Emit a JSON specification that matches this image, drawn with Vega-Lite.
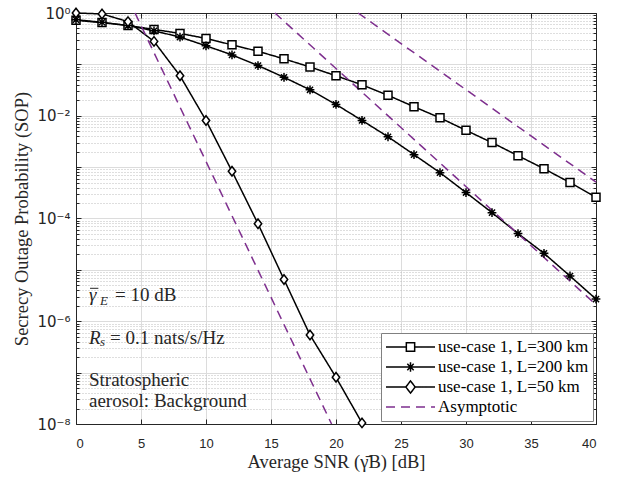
{
  "$schema": "https://vega.github.io/schema/vega-lite/v6.json",
  "width": 520,
  "height": 411,
  "autosize": {"type": "none"},
  "padding": {"left": 76, "top": 13, "right": 24, "bottom": 53},
  "background": "white",
  "config": {
    "view": {"stroke": "#262626", "strokeWidth": 1},
    "axis": {"domainColor": "#262626", "tickColor": "#262626", "labelColor": "#262626", "labelFont": "Liberation Sans", "labelFontSize": 13, "titleFont": "Liberation Serif", "titleFontWeight": "normal", "titleFontSize": 18.5, "titleColor": "#262626"},
    "text": {"font": "Liberation Serif", "fontSize": 19, "color": "#262626"}
  },
  "datasets": {
    "curves": [
      {"series": "use-case 1, L=300 km", "curve": "c300", "snr": 0, "sop": 0.72},
      {"series": "use-case 1, L=300 km", "curve": "c300", "snr": 2, "sop": 0.65},
      {"series": "use-case 1, L=300 km", "curve": "c300", "snr": 4, "sop": 0.57},
      {"series": "use-case 1, L=300 km", "curve": "c300", "snr": 6, "sop": 0.48},
      {"series": "use-case 1, L=300 km", "curve": "c300", "snr": 8, "sop": 0.40},
      {"series": "use-case 1, L=300 km", "curve": "c300", "snr": 10, "sop": 0.32},
      {"series": "use-case 1, L=300 km", "curve": "c300", "snr": 12, "sop": 0.24},
      {"series": "use-case 1, L=300 km", "curve": "c300", "snr": 14, "sop": 0.18},
      {"series": "use-case 1, L=300 km", "curve": "c300", "snr": 16, "sop": 0.128},
      {"series": "use-case 1, L=300 km", "curve": "c300", "snr": 18, "sop": 0.089},
      {"series": "use-case 1, L=300 km", "curve": "c300", "snr": 20, "sop": 0.060},
      {"series": "use-case 1, L=300 km", "curve": "c300", "snr": 22, "sop": 0.040},
      {"series": "use-case 1, L=300 km", "curve": "c300", "snr": 24, "sop": 0.025},
      {"series": "use-case 1, L=300 km", "curve": "c300", "snr": 26, "sop": 0.015},
      {"series": "use-case 1, L=300 km", "curve": "c300", "snr": 28, "sop": 0.0091},
      {"series": "use-case 1, L=300 km", "curve": "c300", "snr": 30, "sop": 0.0052},
      {"series": "use-case 1, L=300 km", "curve": "c300", "snr": 32, "sop": 0.0030},
      {"series": "use-case 1, L=300 km", "curve": "c300", "snr": 34, "sop": 0.00167},
      {"series": "use-case 1, L=300 km", "curve": "c300", "snr": 36, "sop": 0.00093},
      {"series": "use-case 1, L=300 km", "curve": "c300", "snr": 38, "sop": 0.00050},
      {"series": "use-case 1, L=300 km", "curve": "c300", "snr": 40, "sop": 0.00026},
      {"series": "use-case 1, L=200 km", "curve": "c200", "snr": 0, "sop": 0.74},
      {"series": "use-case 1, L=200 km", "curve": "c200", "snr": 2, "sop": 0.66},
      {"series": "use-case 1, L=200 km", "curve": "c200", "snr": 4, "sop": 0.57},
      {"series": "use-case 1, L=200 km", "curve": "c200", "snr": 6, "sop": 0.45},
      {"series": "use-case 1, L=200 km", "curve": "c200", "snr": 8, "sop": 0.34},
      {"series": "use-case 1, L=200 km", "curve": "c200", "snr": 10, "sop": 0.23},
      {"series": "use-case 1, L=200 km", "curve": "c200", "snr": 12, "sop": 0.153},
      {"series": "use-case 1, L=200 km", "curve": "c200", "snr": 14, "sop": 0.095},
      {"series": "use-case 1, L=200 km", "curve": "c200", "snr": 16, "sop": 0.056},
      {"series": "use-case 1, L=200 km", "curve": "c200", "snr": 18, "sop": 0.032},
      {"series": "use-case 1, L=200 km", "curve": "c200", "snr": 20, "sop": 0.0166},
      {"series": "use-case 1, L=200 km", "curve": "c200", "snr": 22, "sop": 0.0081},
      {"series": "use-case 1, L=200 km", "curve": "c200", "snr": 24, "sop": 0.0039},
      {"series": "use-case 1, L=200 km", "curve": "c200", "snr": 26, "sop": 0.00175},
      {"series": "use-case 1, L=200 km", "curve": "c200", "snr": 28, "sop": 0.00078},
      {"series": "use-case 1, L=200 km", "curve": "c200", "snr": 30, "sop": 0.00032},
      {"series": "use-case 1, L=200 km", "curve": "c200", "snr": 32, "sop": 0.00013},
      {"series": "use-case 1, L=200 km", "curve": "c200", "snr": 34, "sop": 0.000051},
      {"series": "use-case 1, L=200 km", "curve": "c200", "snr": 36, "sop": 0.000021},
      {"series": "use-case 1, L=200 km", "curve": "c200", "snr": 38, "sop": 0.0000076},
      {"series": "use-case 1, L=200 km", "curve": "c200", "snr": 40, "sop": 0.0000027},
      {"series": "use-case 1, L=50 km", "curve": "c50", "snr": 0, "sop": 1.0},
      {"series": "use-case 1, L=50 km", "curve": "c50", "snr": 2, "sop": 0.96},
      {"series": "use-case 1, L=50 km", "curve": "c50", "snr": 4, "sop": 0.68},
      {"series": "use-case 1, L=50 km", "curve": "c50", "snr": 6, "sop": 0.28},
      {"series": "use-case 1, L=50 km", "curve": "c50", "snr": 8, "sop": 0.060},
      {"series": "use-case 1, L=50 km", "curve": "c50", "snr": 10, "sop": 0.0081},
      {"series": "use-case 1, L=50 km", "curve": "c50", "snr": 12, "sop": 0.00083},
      {"series": "use-case 1, L=50 km", "curve": "c50", "snr": 14, "sop": 0.000079},
      {"series": "use-case 1, L=50 km", "curve": "c50", "snr": 16, "sop": 0.0000065},
      {"series": "use-case 1, L=50 km", "curve": "c50", "snr": 18, "sop": 0.00000054},
      {"series": "use-case 1, L=50 km", "curve": "c50", "snr": 20, "sop": 0.000000081},
      {"series": "use-case 1, L=50 km", "curve": "c50", "snr": 22, "sop": 0.0000000105},
      {"series": "Asymptotic", "curve": "a50", "snr": 4.54, "sop": 1.0},
      {"series": "Asymptotic", "curve": "a50", "snr": 19.66, "sop": 0.00000001},
      {"series": "Asymptotic", "curve": "a200", "snr": 15.3, "sop": 1.0},
      {"series": "Asymptotic", "curve": "a200", "snr": 40, "sop": 0.0000021},
      {"series": "Asymptotic", "curve": "a300", "snr": 21.7, "sop": 1.0},
      {"series": "Asymptotic", "curve": "a300", "snr": 40, "sop": 0.00051}
    ]
  },
  "layer": [
    {
      "data": {"name": "curves"},
      "mark": {"type": "line", "strokeWidth": 1.5},
      "encoding": {
        "x": {"field": "snr", "type": "quantitative", "scale": {"domain": [0, 40], "nice": false},
          "axis": {"orient": "bottom", "values": [0, 5, 10, 15, 20, 25, 30, 35, 40], "grid": true, "gridColor": "#dcdcdc", "gridWidth": 1, "tickSize": -5, "labelPadding": 18, "title": "Average SNR (γ̄B) [dB]", "titlePadding": 2}},
        "y": {"field": "sop", "type": "quantitative", "scale": {"type": "log", "domain": [0.00000001, 1], "nice": false},
          "axis": {"orient": "left",
            "values": [1, 0.9, 0.8, 0.7, 0.6, 0.5, 0.4, 0.3, 0.2, 0.1, 0.09, 0.08, 0.07, 0.06, 0.05, 0.04, 0.03, 0.02, 0.01, 0.009, 0.008, 0.007, 0.006, 0.005, 0.004, 0.003, 0.002, 0.001, 0.0009, 0.0008, 0.0007, 0.0006, 0.0005, 0.0004, 0.0003, 0.0002, 0.0001, 0.00009, 0.00008, 0.00007, 0.00006, 0.00005, 0.00004, 0.00003, 0.00002, 0.00001, 0.000009, 0.000008, 0.000007, 0.000006, 0.000005, 0.000004, 0.000003, 0.000002, 0.000001, 9e-7, 8e-7, 7e-7, 6e-7, 5e-7, 4e-7, 3e-7, 2e-7, 1e-7, 9e-8, 8e-8, 7e-8, 6e-8, 5e-8, 4e-8, 3e-8, 2e-8, 1e-8],
            "labelExpr": "datum.value === 1 ? '10⁰' : datum.value === 0.01 ? '10⁻²' : datum.value === 0.0001 ? '10⁻⁴' : datum.value === 0.000001 ? '10⁻⁶' : datum.value === 1e-8 ? '10⁻⁸' : ''",
            "labelFont": "DejaVu Sans",
            "labelFontSize": 15,
            "grid": true,
            "gridColor": {"condition": {"test": "abs(log(datum.value)/LN10 - round(log(datum.value)/LN10)) < 0.001", "value": "#dcdcdc"}, "value": "#bdbdbd"},
            "gridDash": {"condition": {"test": "abs(log(datum.value)/LN10 - round(log(datum.value)/LN10)) < 0.001", "value": []}, "value": [1, 2]},
            "tickSize": {"condition": {"test": "abs(log(datum.value)/LN10 - round(log(datum.value)/LN10)) < 0.001", "value": -5}, "value": -3},
            "labelPadding": 11,
            "labelOverlap": false,
            "title": "Secrecy Outage Probability (SOP)", "titlePadding": 5}},
        "color": {"field": "series", "type": "nominal",
          "scale": {"domain": ["use-case 1, L=300 km", "use-case 1, L=200 km", "use-case 1, L=50 km", "Asymptotic"], "range": ["black", "black", "black", "#7E2F8E"]},
          "legend": {"title": null, "orient": "bottom-right", "offset": 3, "padding": 4, "fillColor": "white", "strokeColor": "#808080",
            "symbolSize": 2401, "symbolStrokeWidth": 1.5, "clipHeight": 20, "rowPadding": 0, "labelOffset": 2,
            "labelFont": "Liberation Serif", "labelFontSize": 17, "labelColor": "black", "labelLimit": 0,
            "encode": {"symbols": {"update": {
              "shape": {"signal": "datum.value === 'use-case 1, L=300 km' ? 'M-1,0L-0.17,0M0.17,0L1,0M-0.17,-0.17L0.17,-0.17L0.17,0.17L-0.17,0.17Z' : datum.value === 'use-case 1, L=200 km' ? 'M-1,0L1,0M0,-0.19L0,0.19M-0.13,-0.13L0.13,0.13M-0.13,0.13L0.13,-0.13' : datum.value === 'use-case 1, L=50 km' ? 'M-1,0L-0.19,0M0.19,0L1,0M0,-0.25L0.19,0L0,0.25L-0.19,0Z' : 'M-1,0L1,0'"},
              "fill": {"value": "white"},
              "opacity": {"value": 1}}}}}},
        "strokeDash": {"field": "series", "type": "nominal",
          "scale": {"domain": ["use-case 1, L=300 km", "use-case 1, L=200 km", "use-case 1, L=50 km", "Asymptotic"], "range": [[1, 0], [1, 0], [1, 0], [9, 6]]}},
        "detail": {"field": "curve"}
      }
    },
    {
      "data": {"name": "curves"},
      "transform": [{"filter": "datum.series !== 'Asymptotic'"}],
      "mark": {"type": "point", "filled": true, "fill": "white", "stroke": "black", "strokeWidth": 1.5, "opacity": 1},
      "encoding": {
        "x": {"field": "snr", "type": "quantitative",
          "axis": {"orient": "top", "values": [0, 5, 10, 15, 20, 25, 30, 35, 40], "labels": false, "title": null, "grid": false, "tickSize": -5, "domainColor": "#262626"}},
        "y": {"field": "sop", "type": "quantitative",
          "axis": {"orient": "right",
            "values": [1, 0.9, 0.8, 0.7, 0.6, 0.5, 0.4, 0.3, 0.2, 0.1, 0.09, 0.08, 0.07, 0.06, 0.05, 0.04, 0.03, 0.02, 0.01, 0.009, 0.008, 0.007, 0.006, 0.005, 0.004, 0.003, 0.002, 0.001, 0.0009, 0.0008, 0.0007, 0.0006, 0.0005, 0.0004, 0.0003, 0.0002, 0.0001, 0.00009, 0.00008, 0.00007, 0.00006, 0.00005, 0.00004, 0.00003, 0.00002, 0.00001, 0.000009, 0.000008, 0.000007, 0.000006, 0.000005, 0.000004, 0.000003, 0.000002, 0.000001, 9e-7, 8e-7, 7e-7, 6e-7, 5e-7, 4e-7, 3e-7, 2e-7, 1e-7, 9e-8, 8e-8, 7e-8, 6e-8, 5e-8, 4e-8, 3e-8, 2e-8, 1e-8],
            "labels": false, "title": null, "grid": false,
            "tickSize": {"condition": {"test": "abs(log(datum.value)/LN10 - round(log(datum.value)/LN10)) < 0.001", "value": -5}, "value": -3}}},
        "shape": {"field": "series", "type": "nominal", "legend": null,
          "scale": {"domain": ["use-case 1, L=300 km", "use-case 1, L=200 km", "use-case 1, L=50 km"], "range": ["square", "M0,-1L0,1M-1,0L1,0M-0.7,-0.7L0.7,0.7M-0.7,0.7L0.7,-0.7", "M0,-1L0.78,0L0,1L-0.78,0Z"]}},
        "size": {"field": "series", "type": "nominal", "legend": null,
          "scale": {"domain": ["use-case 1, L=300 km", "use-case 1, L=200 km", "use-case 1, L=50 km"], "range": [64, 90, 144]}}
      }
    },
    {
      "data": {"values": [{"snr": 1.08, "snr2": 1.72, "sop": 0.0000032}]},
      "mark": {"type": "rule", "yOffset": -7, "strokeWidth": 1, "color": "#262626"},
      "encoding": {"x": {"field": "snr", "type": "quantitative", "axis": null}, "x2": {"field": "snr2"}, "y": {"field": "sop", "type": "quantitative", "axis": null}}
    },
    {
      "data": {"values": [{"t": "γ", "snr": 1.0, "sop": 0.0000032}]},
      "mark": {"type": "text", "align": "left", "baseline": "middle", "fontStyle": "italic"},
      "encoding": {"x": {"field": "snr", "type": "quantitative", "axis": null}, "y": {"field": "sop", "type": "quantitative", "axis": null}, "text": {"field": "t"}}
    },
    {
      "data": {"values": [{"t": "E", "snr": 1.0, "sop": 0.0000032}]},
      "mark": {"type": "text", "align": "left", "baseline": "middle", "fontStyle": "italic", "fontSize": 13, "dx": 11, "dy": 6},
      "encoding": {"x": {"field": "snr", "type": "quantitative", "axis": null}, "y": {"field": "sop", "type": "quantitative", "axis": null}, "text": {"field": "t"}}
    },
    {
      "data": {"values": [{"t": "= 10 dB", "snr": 1.0, "sop": 0.0000032}]},
      "mark": {"type": "text", "align": "left", "baseline": "middle", "dx": 26},
      "encoding": {"x": {"field": "snr", "type": "quantitative", "axis": null}, "y": {"field": "sop", "type": "quantitative", "axis": null}, "text": {"field": "t"}}
    },
    {
      "data": {"values": [{"t": "R", "snr": 1.0, "sop": 0.00000047}]},
      "mark": {"type": "text", "align": "left", "baseline": "middle", "fontStyle": "italic"},
      "encoding": {"x": {"field": "snr", "type": "quantitative", "axis": null}, "y": {"field": "sop", "type": "quantitative", "axis": null}, "text": {"field": "t"}}
    },
    {
      "data": {"values": [{"t": "s", "snr": 1.0, "sop": 0.00000047}]},
      "mark": {"type": "text", "align": "left", "baseline": "middle", "fontStyle": "italic", "fontSize": 13, "dx": 11, "dy": 4},
      "encoding": {"x": {"field": "snr", "type": "quantitative", "axis": null}, "y": {"field": "sop", "type": "quantitative", "axis": null}, "text": {"field": "t"}}
    },
    {
      "data": {"values": [{"t": "= 0.1 nats/s/Hz", "snr": 1.0, "sop": 0.00000047}]},
      "mark": {"type": "text", "align": "left", "baseline": "middle", "dx": 21},
      "encoding": {"x": {"field": "snr", "type": "quantitative", "axis": null}, "y": {"field": "sop", "type": "quantitative", "axis": null}, "text": {"field": "t"}}
    },
    {
      "data": {"values": [{"t": "Stratospheric", "snr": 1.0, "sop": 0.000000071}, {"t": "aerosol: Background", "snr": 1.0, "sop": 0.000000028}]},
      "mark": {"type": "text", "align": "left", "baseline": "middle"},
      "encoding": {"x": {"field": "snr", "type": "quantitative", "axis": null}, "y": {"field": "sop", "type": "quantitative", "axis": null}, "text": {"field": "t"}}
    }
  ],
  "resolve": {"axis": {"x": "independent", "y": "independent"}}
}
